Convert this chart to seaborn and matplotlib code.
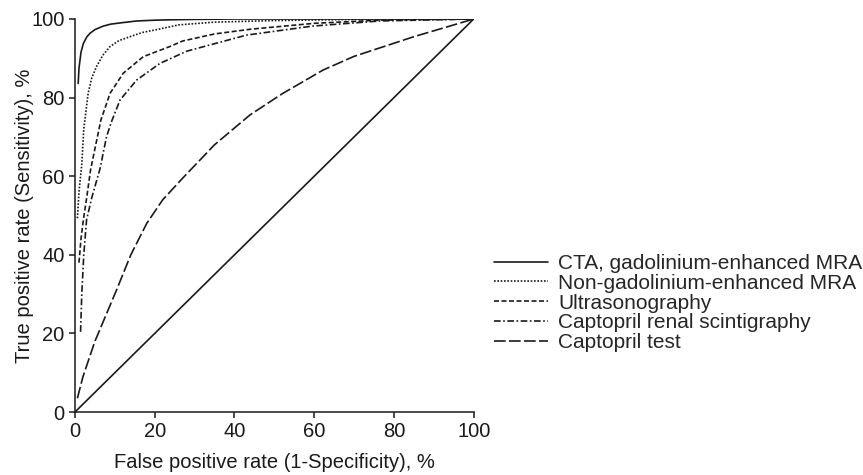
import matplotlib
matplotlib.use("Agg")
import matplotlib.pyplot as plt
import seaborn as sns

# ROC curves (x = FPR %, y = TPR %)
cta_x = [0.8, 1.0, 1.5, 2.1, 3.0, 3.8, 5.0, 7.1, 9.0, 11.3, 15.5, 20, 24, 30, 40, 60, 80, 100]
cta_y = [83.6, 87.5, 91.5, 93.8, 95.5, 96.4, 97.3, 98.2, 98.7, 99.0, 99.5, 99.7, 99.8, 99.9, 100, 100, 100, 100]

nongad_x = [0.6, 1.0, 1.4, 1.7, 2.2, 3.3, 4.2, 5.4, 7.0, 8.8, 11, 13.8, 17, 20.5, 26, 35, 50, 70, 100]
nongad_y = [49.3, 56, 60, 63, 72, 81.1, 85, 87.9, 90.8, 93, 94.5, 95.5, 96.6, 97.3, 98.5, 99.2, 99.6, 99.9, 100]

us_x = [1.0, 1.5, 2.1, 3.0, 3.9, 5.0, 6.5, 8.8, 12.1, 17.1, 23.8, 27, 35, 44, 60, 76.4, 100]
us_y = [38, 44, 48.9, 55, 61.6, 67, 74.3, 81.1, 86.2, 90.4, 93, 94.4, 96.2, 97.4, 98.9, 99.7, 100]

scint_x = [1.4, 1.7, 2.2, 2.9, 4.2, 6.3, 7.9, 9.2, 11.3, 15.5, 21.3, 28, 43, 59.6, 76.4, 100]
scint_y = [20.4, 30, 40, 48.9, 54.5, 62, 70, 74, 79.4, 84.5, 88.7, 91.8, 95.9, 98.2, 99.5, 100]

capt_x = [0.6, 2, 5, 10.4, 14, 18, 22, 27, 35, 43.9, 52, 62.2, 70, 85, 100]
capt_y = [3.5, 9, 18, 31, 40, 48, 54, 59.5, 68, 75.6, 81, 87, 90.5, 95.5, 100]

ref_x = [0, 100]
ref_y = [0, 100]

labels = ["CTA, gadolinium-enhanced MRA", "Non-gadolinium-enhanced MRA",
          "Ultrasonography", "Captopril renal scintigraphy", "Captopril test"]

sns.set_style("ticks")
plt.rcParams["font.family"] = ["Liberation Sans", "DejaVu Sans"]

fig = plt.figure(figsize=(8.63, 4.75), dpi=100)
ax = fig.add_axes([0.0869, 0.1326, 0.4620, 0.8274])

ink = "#1a1a1a"
lw = 1.2
fs = 14.5
series = [
    (cta_x, cta_y, "-"),
    (nongad_x, nongad_y, (0, (1, 1))),
    (us_x, us_y, (0, (3, 1.5))),
    (scint_x, scint_y, (0, (4, 1.5, 1, 1.5))),
    (capt_x, capt_y, (0, (7, 2))),
]
for (xs, ys, ls), lab in zip(series, labels):
    sns.lineplot(x=xs, y=ys, ax=ax, color=ink, linestyle=ls, linewidth=lw,
                 label=lab, sort=False, estimator=None)
sns.lineplot(x=ref_x, y=ref_y, ax=ax, color=ink, linewidth=lw,
             label="_nolegend_", sort=False, estimator=None)

ax.set_xlim(0, 100)
ax.set_ylim(0, 100)
ax.set_xticks([0, 20, 40, 60, 80, 100])
ax.set_yticks([0, 20, 40, 60, 80, 100])
ax.tick_params(labelsize=fs, length=4.5, width=1.1, colors=ink, direction="out", pad=3)
for s in ["left", "bottom"]:
    ax.spines[s].set_linewidth(1.1)
    ax.spines[s].set_color(ink)
sns.despine(ax=ax)
ax.set_xlabel("False positive rate (1-Specificity), %", fontsize=fs, color=ink, labelpad=8)
ax.set_ylabel("True positive rate (Sensitivity), %", fontsize=fs, color=ink, labelpad=-2)

handles, labs = ax.get_legend_handles_labels()
ax.get_legend().remove()
fig.legend(handles, labs, loc="center left", bbox_to_anchor=(0.560, 0.362),
           frameon=False, borderpad=0, handlelength=2.6, handletextpad=0.5,
           labelspacing=0.04, fontsize=15)

fig.savefig("out.png", dpi=100)
